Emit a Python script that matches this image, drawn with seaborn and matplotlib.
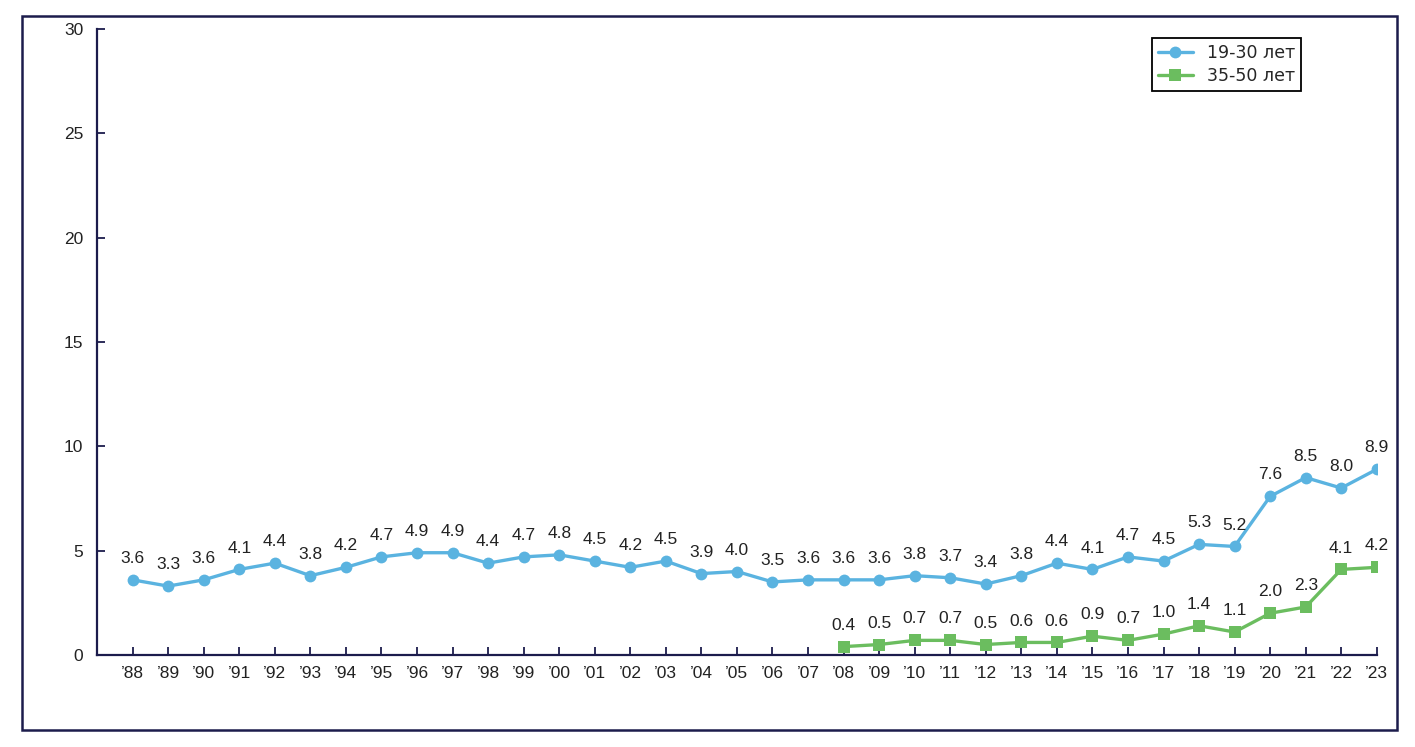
import numpy as np
import pandas as pd
import seaborn as sns
import matplotlib.pyplot as plt
from matplotlib.patches import Rectangle

# Data
years = ['88', '89', '90', '91', '92', '93', '94', '95', '96', '97', '98', '99',
         '00', '01', '02', '03', '04', '05', '06', '07', '08', '09', '10', '11',
         '12', '13', '14', '15', '16', '17', '18', '19', '20', '21', '22', '23']
young = [3.6, 3.3, 3.6, 4.1, 4.4, 3.8, 4.2, 4.7, 4.9, 4.9, 4.4, 4.7,
         4.8, 4.5, 4.2, 4.5, 3.9, 4.0, 3.5, 3.6, 3.6, 3.6, 3.8, 3.7,
         3.4, 3.8, 4.4, 4.1, 4.7, 4.5, 5.3, 5.2, 7.6, 8.5, 8.0, 8.9]
older_start = 20  # '08
older = [0.4, 0.5, 0.7, 0.7, 0.5, 0.6, 0.6, 0.9, 0.7, 1.0, 1.4, 1.1, 2.0, 2.3, 4.1, 4.2]
series_names = ['19-30 лет', '35-50 лет']

blue = '#5ab3e0'
green = '#6bbd5f'
navy = '#1c1c4c'
txt = '#222222'

sns.set_style('white')
plt.rcParams['font.family'] = ['Liberation Sans', 'DejaVu Sans']

df_young = pd.DataFrame({'x': np.arange(len(years)), 'y': young})
df_old = pd.DataFrame({'x': np.arange(older_start, older_start + len(older)), 'y': older})

fig = plt.figure(figsize=(14.15, 7.47), dpi=100)
ax = fig.add_axes([0.0686, 0.1232, 0.9044, 0.838])

sns.lineplot(data=df_young, x='x', y='y', ax=ax, color=blue, marker='o',
             markersize=8.5, markeredgewidth=0, linewidth=2.4, label=series_names[0])
sns.lineplot(data=df_old, x='x', y='y', ax=ax, color=green, marker='s',
             markersize=8, markeredgewidth=0, linewidth=2.4, label=series_names[1])

# value labels
for d in (df_young, df_old):
    for xv, yv in zip(d['x'], d['y']):
        ax.annotate(f'{yv:.1f}', (xv, yv), xytext=(0, 10), textcoords='offset points',
                    ha='center', va='bottom', fontsize=12.5, color=txt)

ax.set_xlim(-1, 35)
ax.set_ylim(0, 30)
ax.set_xticks(np.arange(len(years)))
ax.set_xticklabels(['\u2019' + y for y in years])
ax.set_yticks([0, 5, 10, 15, 20, 25, 30])
ax.set_xlabel('')
ax.set_ylabel('')
for s in ['top', 'right']:
    ax.spines[s].set_visible(False)
for s in ['left', 'bottom']:
    ax.spines[s].set_color(navy)
    ax.spines[s].set_linewidth(1.6)
ax.tick_params(axis='both', direction='in', length=6, width=1.3, color=navy,
               labelsize=12.5, labelcolor=txt, bottom=True, left=True)
ax.tick_params(axis='x', pad=8)
ax.tick_params(axis='y', pad=10)

leg = ax.legend(loc='upper right', bbox_to_anchor=(1301 / 1415, 1 - 38 / 747),
                bbox_transform=fig.transFigure, borderaxespad=0, fancybox=False,
                framealpha=1, edgecolor='black', prop={'family': 'DejaVu Sans', 'size': 12.5},
                handlelength=2.0, borderpad=0.35, labelspacing=0.3)
leg.get_frame().set_linewidth(1.3)

# outer frame
fig.patches.append(Rectangle((22 / 1415, 1 - 730 / 747), (1397 - 22) / 1415, (730 - 16) / 747,
                             transform=fig.transFigure, fill=False, edgecolor=navy, linewidth=1.8))

fig.savefig('out.png', dpi=100)
